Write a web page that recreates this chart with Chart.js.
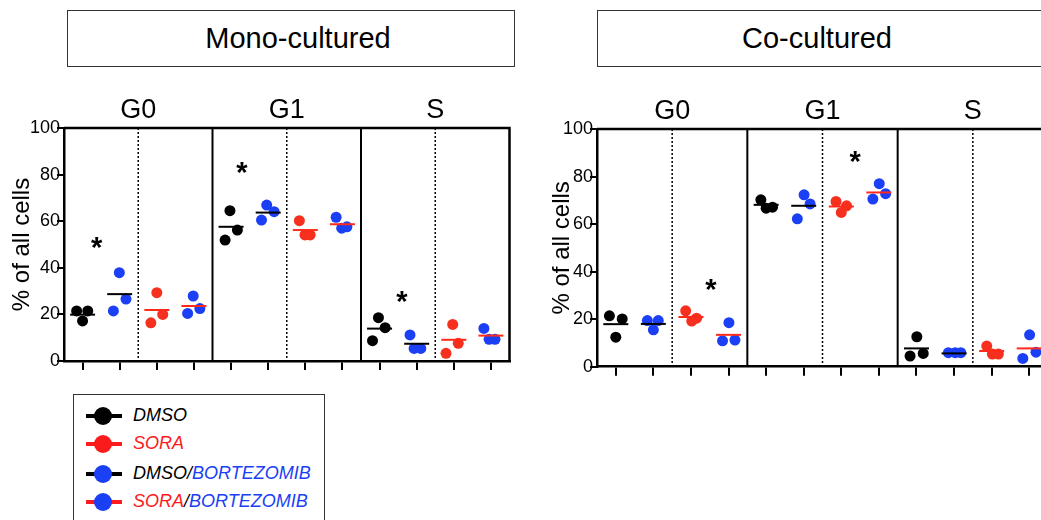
<!DOCTYPE html>
<html>
<head>
<meta charset="utf-8">
<script src="https://cdn.jsdelivr.net/npm/chart.js@4/dist/chart.umd.min.js"></script>
<style>
  html, body { margin: 0; padding: 0; background: #fff; }
  body { width: 1041px; height: 520px; overflow: hidden; position: relative; font-family: "Liberation Sans", Arial, sans-serif; }
  .titlebox { position: absolute; top: 10px; height: 57px; border: 1.5px solid #333; box-sizing: border-box; }
  .titletext { position: absolute; top: 22px; font-size: 29px; color: #000; transform: translateX(-50%); white-space: nowrap; }
  canvas { position: absolute; top: 80px; }
  #legend { position: absolute; left: 73px; top: 394px; width: 252px; height: 160px; border: 1.5px solid #333; box-sizing: border-box; }
  .entry { position: absolute; left: 0; height: 20px; }
  .entry .ln { position: absolute; left: 12px; top: 8px; width: 36px; height: 4px; }
  .entry .dot { position: absolute; left: 20px; top: 1px; width: 18px; height: 18px; border-radius: 50%; }
  .entry .txt { position: absolute; left: 59px; top: -1px; font-size: 18px; font-style: italic; white-space: nowrap; }
</style>
</head>
<body>
<div class="titlebox" style="left:67px; width:448px;"></div>
<div class="titletext" style="left:298px;">Mono-cultured</div>
<div class="titlebox" style="left:597px; width:480px;"></div>
<div class="titletext" style="left:817px;">Co-cultured</div>

<canvas id="chart-mono" width="540" height="310" style="left:0px;"></canvas>
<canvas id="chart-co" width="540" height="310" style="left:540px;"></canvas>

<div id="legend"></div>

<script>
const phases = ['G0', 'G1', 'S'];
const treatments = ['DMSO', 'DMSO/BORTEZOMIB', 'SORA', 'SORA/BORTEZOMIB'];

// replicate values, one row per phase (G0, G1, S)
const monoDmso = [[21.5, 21.5, 17.2], [64.5, 56.2, 51.9], [18.6, 14.3, 8.7]];
const monoDmsoBtz = [[37.9, 26.6, 21.5], [66.9, 64.1, 60.5], [11.2, 5.4, 5.4]];
const monoSora = [[29.3, 20.0, 16.4], [60.2, 54.1, 54.1], [15.7, 7.6, 3.3]];
const monoSoraBtz = [[27.9, 22.5, 20.4], [61.7, 57.0, 57.6], [14.0, 9.3, 9.3]];
const monoMeans = [[19.9, 57.6, 13.9], [28.7, 63.7, 7.4], [21.9, 56.2, 9.1], [23.6, 58.7, 10.9]];

const coDmso = [[21.4, 20.1, 12.4], [70.2, 67.1, 66.7], [12.6, 5.6, 4.5]];
const coDmsoBtz = [[19.4, 19.4, 15.5], [72.3, 68.5, 62.2], [5.9, 5.9, 5.9]];
const coSora = [[23.5, 20.4, 19.2], [69.5, 67.7, 64.9], [8.7, 5.3, 5.3]];
const coSoraBtz = [[18.5, 10.9, 11.2], [77.0, 72.8, 70.5], [13.4, 6.1, 3.5]];
const coMeans = [[17.9, 68.1, 7.7], [18.0, 67.7, 5.6], [20.9, 67.4, 6.6], [13.4, 73.3, 7.7]];

// horizontal scatter of the replicates inside each category (category units), 12 categories
const monoJitter = [
  [-0.16, 0.14, 0.00], [-0.01, 0.17, -0.17], [0.00, 0.16, -0.16], [-0.02, 0.16, -0.17],
  [-0.03, 0.17, -0.16], [-0.04, 0.16, -0.18], [-0.16, -0.01, 0.13], [-0.17, -0.02, 0.12],
  [-0.03, 0.15, -0.19], [-0.18, -0.07, 0.11], [-0.03, 0.12, -0.21], [-0.19, -0.05, 0.11]
];
const coJitter = [
  [-0.17, 0.17, 0.00], [-0.16, 0.13, 0.00], [-0.14, 0.15, 0.02], [0.01, -0.16, 0.17],
  [-0.14, 0.17, 0.00], [0.01, 0.17, -0.17], [-0.14, 0.14, 0.00], [0.01, 0.18, -0.16],
  [0.01, 0.18, -0.17], [-0.15, 0.03, 0.18], [-0.13, 0.02, 0.18], [0.01, 0.18, -0.17]
];

// significance stars: [category position, value]
const monoStars = [[0.38, 50.5], [4.29, 82.7], [8.6, 27.6]];
const coStars = [[2.53, 34.4], [6.37, 88.2]];

const yTicks = [0, 20, 40, 60, 80, 100];

const BLACK = '#000000';
const RED = '#f5301e';
const RED_LINE = '#ff2a1a';
const BLUE = '#1b3ff5';
const dotColors = [BLACK, BLUE, RED, BLUE];
const meanColors = [BLACK, BLACK, RED_LINE, RED_LINE];
const FONT = '"Liberation Sans", Arial, sans-serif';

const buildDatasets = (groups, means, jitter) => {
    const pts = [];
    const lines = [];
    groups.forEach((g, t) => {
        const data = [];
        const meanData = [];
        g.forEach((reps, p) => {
            const cat = p * 4 + t;
            reps.forEach((v, k) => data.push({ x: cat + jitter[cat][k], y: v }));
            meanData.push({ x: cat, y: means[t][p] });
        });
        pts.push({
            label: treatments[t],
            data: data,
            backgroundColor: dotColors[t],
            borderWidth: 0,
            pointRadius: 5.5,
            order: 1
        });
        lines.push({
            label: treatments[t] + ' mean',
            data: meanData,
            pointStyle: 'line',
            pointRadius: 12.5,
            borderColor: meanColors[t],
            pointBorderColor: meanColors[t],
            pointBorderWidth: 2,
            borderWidth: 2,
            order: 0
        });
    });
    return lines.concat(pts);
}

const panelDecor = {
    id: 'panelDecor',
    beforeDatasetsDraw(chart) {
        const { ctx, chartArea: a, scales: { x } } = chart;
        ctx.save();
        ctx.strokeStyle = '#000';
        // section separators
        ctx.lineWidth = 2;
        [3.5, 7.5].forEach(v => {
            const px = x.getPixelForValue(v);
            ctx.beginPath(); ctx.moveTo(px, a.top); ctx.lineTo(px, a.bottom); ctx.stroke();
        });
        ctx.lineWidth = 1.5;
        ctx.setLineDash([2, 2]);
        [1.5, 5.5, 9.5].forEach(v => {
            const px = x.getPixelForValue(v);
            ctx.beginPath(); ctx.moveTo(px, a.top); ctx.lineTo(px, a.bottom); ctx.stroke();
        });
        ctx.setLineDash([]);
        // top and right frame
        ctx.lineWidth = 2.5;
        ctx.beginPath();
        ctx.moveTo(a.left, a.top); ctx.lineTo(a.right, a.top); ctx.lineTo(a.right, a.bottom);
        ctx.stroke();
        // phase labels
        ctx.fillStyle = '#000';
        ctx.font = '27px ' + FONT;
        ctx.textAlign = 'center';
        ctx.textBaseline = 'alphabetic';
        phases.forEach((ph, i) => {
            ctx.fillText(ph, x.getPixelForValue(i * 4 + 1.5), a.top - 10);
        });
        ctx.restore();
    },
    afterDatasetsDraw(chart, args, opts) {
        const { ctx, scales: { x, y } } = chart;
        ctx.save();
        ctx.fillStyle = '#000';
        ctx.font = 'bold 29px ' + FONT;
        ctx.textAlign = 'center';
        ctx.textBaseline = 'alphabetic';
        const m = ctx.measureText('*');
        const mid = (m.actualBoundingBoxAscent - m.actualBoundingBoxDescent) / 2;
        (opts.stars || []).forEach(s => {
            ctx.fillText('*', x.getPixelForValue(s[0]), y.getPixelForValue(s[1]) + mid);
        });
        ctx.restore();
    }
};

const renderPanel = (canvasId, datasets, stars, yWidth, padding) => {
    const ctx = document.getElementById(canvasId).getContext('2d');
    new Chart(ctx, {
        type: 'scatter',
        data: { datasets: datasets },
        plugins: [panelDecor],
        options: {
            responsive: false,
            animation: false,
            events: [],
            clip: false,
            layout: { padding: padding },
            plugins: {
                legend: { display: false },
                tooltip: { enabled: false },
                panelDecor: { stars: stars }
            },
            scales: {
                x: {
                    type: 'linear',
                    min: -0.5,
                    max: 11.5,
                    afterBuildTicks: (scale) => {
                        scale.ticks = Array.from({ length: 12 }, (_, i) => ({ value: i }));
                    },
                    afterFit: (scale) => { scale.height = 20; },
                    ticks: { display: false },
                    grid: { drawOnChartArea: false, drawTicks: true, tickLength: 9, color: '#000', lineWidth: 2 },
                    border: { display: true, color: '#000', width: 2.5 }
                },
                y: {
                    min: 0,
                    max: 100,
                    afterBuildTicks: (scale) => {
                        scale.ticks = yTicks.map(v => ({ value: v }));
                    },
                    afterFit: (scale) => { scale.width = yWidth; },
                    ticks: { color: '#000', padding: -3, font: { family: FONT, size: 18 } },
                    grid: { drawOnChartArea: false, drawTicks: true, tickLength: 7, color: '#000', lineWidth: 2 },
                    border: { display: true, color: '#000', width: 2.5 },
                    title: {
                        display: true,
                        text: '% of all cells',
                        color: '#000',
                        font: { family: FONT, size: 24 },
                        padding: { top: 7.6, bottom: 0 }
                    }
                }
            }
        }
    });
}

renderPanel('chart-mono',
    buildDatasets([monoDmso, monoDmsoBtz, monoSora, monoSoraBtz], monoMeans, monoJitter),
    monoStars, 64, { top: 48, right: 30.5, bottom: 9, left: 0 });
renderPanel('chart-co',
    buildDatasets([coDmso, coDmsoBtz, coSora, coSoraBtz], coMeans, coJitter),
    coStars, 57, { top: 49, right: 32, bottom: 3.3, left: 0 });

// legend
const legendItems = [
    { line: BLACK, dot: BLACK, parts: [['DMSO', BLACK]] },
    { line: '#fa1c1c', dot: '#fa1c1c', parts: [['SORA', '#fa1c1c']] },
    { line: BLACK, dot: BLUE, parts: [['DMSO', BLACK], ['/', BLACK], ['BORTEZOMIB', BLUE]] },
    { line: '#fa1c1c', dot: BLUE, parts: [['SORA', '#fa1c1c'], ['/', BLACK], ['BORTEZOMIB', BLUE]] }
];
const legendTops = [11, 39, 69, 97];
const legendBox = document.getElementById('legend');
legendItems.forEach((item, i) => {
    const e = document.createElement('div');
    e.className = 'entry';
    e.style.top = legendTops[i] + 'px';
    e.innerHTML = `
        <div class="ln" style="background:${item.line}"></div>
        <div class="dot" style="background:${item.dot}"></div>
        <div class="txt">${item.parts.map(p => `<span style="color:${p[1]}">${p[0]}</span>`).join('')}</div>
    `;
    legendBox.appendChild(e);
});
</script>
</body>
</html>
